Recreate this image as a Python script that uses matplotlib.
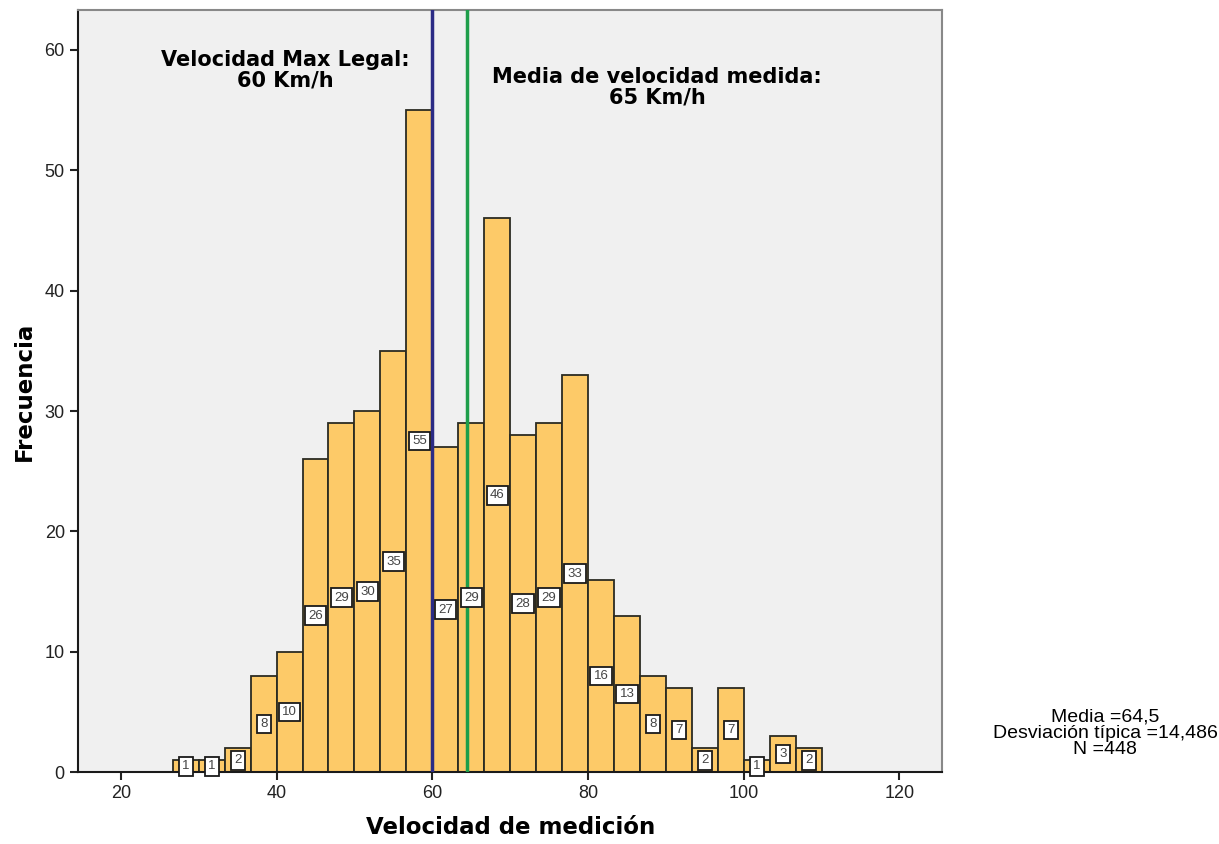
import numpy as np
import matplotlib
matplotlib.use("Agg")
import matplotlib.pyplot as plt

plt.rcParams['font.family'] = ['Liberation Sans', 'DejaVu Sans']

# histogram data (SPSS output), bins of width 10/3 from 26.67 to 110
bin_start = 80 / 3
bin_width = 10 / 3
counts = [1, 1, 2, 8, 10, 26, 29, 30, 35, 55, 27, 29, 46,
          28, 29, 33, 16, 13, 8, 7, 2, 7, 1, 3, 2]
legal_speed = 60
mean_speed = 64.5
stats_lines = ["Media =64,5", "Desviación típica =14,486", "N =448"]

edges = bin_start + bin_width * np.arange(len(counts))
centers = edges + bin_width / 2

fig = plt.figure(figsize=(12.19, 8.44), dpi=100)
ax = fig.add_axes([0.064, 0.085, 0.709, 0.903])
ax.set_facecolor('#f0f0f0')

ax.bar(edges, counts, width=bin_width, align='edge', color='#fdca68',
       edgecolor='#2b2b22', linewidth=1.3, zorder=2)

for c, n in zip(centers, counts):
    ax.text(c, n / 2, str(n), ha='center', va='center', fontsize=9.5,
            color='#444444', zorder=5,
            bbox=dict(boxstyle='square,pad=0.25', fc='white', ec='#1a1a1a', lw=1.3))

ax.axvline(legal_speed, color='#2b2b85', lw=2.5, zorder=4)
ax.axvline(mean_speed, color='#1e9e4a', lw=2.5, zorder=4)

bold = dict(family='DejaVu Sans', fontweight='bold')
ax.text(41.1, 58.3, "Velocidad Max Legal:\n60 Km/h", ha='center', va='center',
        fontsize=15, linespacing=1.0, **bold)
ax.text(88.9, 56.9, "Media de velocidad medida:\n65 Km/h", ha='center', va='center',
        fontsize=15, linespacing=1.0, **bold)

ax.set_xlim(14.5, 125.5)
ax.set_ylim(0, 63.3)
ax.set_xticks([20, 40, 60, 80, 100, 120])
ax.set_yticks([0, 10, 20, 30, 40, 50, 60])
ax.tick_params(axis='both', direction='out', length=6, width=1.5,
               labelsize=13, colors='#222222')

for side in ['top', 'right']:
    ax.spines[side].set_color('#888888')
    ax.spines[side].set_linewidth(1.5)
for side in ['left', 'bottom']:
    ax.spines[side].set_color('#1a1a1a')
    ax.spines[side].set_linewidth(1.5)

ax.set_xlabel("Velocidad de medición", fontsize=16.5, labelpad=10, **bold)
ax.set_ylabel("Frecuencia", fontsize=16.5, labelpad=6, **bold)

fig.text(0.9065, 0.1315, "\n".join(stats_lines), ha='center', va='center',
         fontsize=14, linespacing=0.95)

fig.savefig("out.png", dpi=100)
